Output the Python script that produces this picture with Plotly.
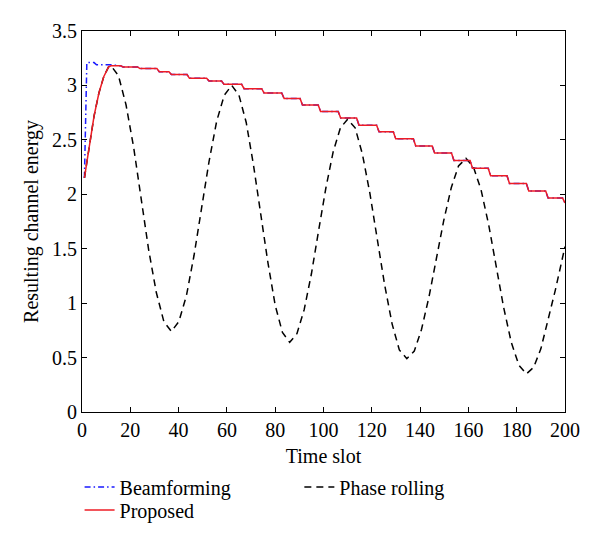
import plotly.graph_objects as go

# Phase rolling (black dashed)
phase_x = [1, 3, 5, 7, 9, 11, 12, 15.1, 18.25, 21.4, 24.5, 27.6, 30.75, 33.9, 37,
           40.1, 43.25, 46.4, 49.5, 52.6, 55.75, 58.9, 62,
           65, 68, 71, 74, 77, 80, 83, 86,
           89, 92, 95, 98, 101, 104, 107, 110,
           113.1, 116.1, 119.2, 122.25, 125.3, 128.4, 131.4, 134.5,
           137.6, 140.6, 143.7, 146.75, 149.8, 152.9, 155.9, 159,
           162.1, 165.25, 168.4, 171.5, 174.6, 177.75, 180.9, 184,
           187, 190, 193, 196, 200]
phase_y = [2.15, 2.45, 2.72, 2.93, 3.08, 3.17, 3.18, 3.09, 2.82, 2.43, 1.96, 1.49, 1.10, 0.83, 0.74,
           0.83, 1.07, 1.44, 1.87, 2.30, 2.67, 2.91, 3.00,
           2.91, 2.66, 2.27, 1.82, 1.37, 0.98, 0.73, 0.64,
           0.72, 0.94, 1.27, 1.67, 2.06, 2.39, 2.61, 2.69,
           2.61, 2.37, 2.01, 1.59, 1.17, 0.81, 0.57, 0.49,
           0.56, 0.76, 1.06, 1.41, 1.76, 2.06, 2.26, 2.33,
           2.25, 2.04, 1.72, 1.34, 0.96, 0.64, 0.43, 0.35,
           0.41, 0.58, 0.84, 1.12, 1.52]

# Proposed (red staircase)
proposed_x = [1, 3, 5, 7, 9, 11, 12, 16, 17, 23, 24, 31, 32, 36, 37, 43.5, 44.5,
              51.6, 52.6, 57.8, 58.8, 66.1, 67.1, 74.4, 75.4, 82.7, 83.7, 90.3, 91.3,
              97.8, 98.8, 106.1, 107.1, 113.7, 114.7, 122, 123, 128.9, 129.9,
              137.2, 138.2, 145, 146, 153, 154, 160.7, 161.7, 168.2, 169.2,
              176, 177, 184, 185, 192, 193, 199, 200]
proposed_y = [2.15, 2.45, 2.72, 2.93, 3.08, 3.17, 3.18, 3.18, 3.17, 3.17, 3.155, 3.155, 3.125, 3.125, 3.10, 3.10, 3.065,
              3.065, 3.04, 3.04, 3.01, 3.01, 2.97, 2.97, 2.93, 2.93, 2.88, 2.88, 2.82,
              2.82, 2.76, 2.76, 2.70, 2.70, 2.635, 2.635, 2.575, 2.575, 2.51,
              2.51, 2.443, 2.443, 2.38, 2.38, 2.31, 2.31, 2.24, 2.24, 2.17,
              2.17, 2.10, 2.10, 2.03, 2.03, 1.965, 1.965, 1.92]

# Beamforming (blue dash-dot): its own start, then identical to proposed
beam_head_x = [1, 2, 5, 6, 12]
beam_head_y = [2.15, 3.21, 3.21, 3.19, 3.19]
beam_x = beam_head_x + [x for x in proposed_x if x > 12]
beam_y = beam_head_y + [y for x, y in zip(proposed_x, proposed_y) if x > 12]

x_ticks = [0, 20, 40, 60, 80, 100, 120, 140, 160, 180, 200]
y_ticks = [0, 0.5, 1, 1.5, 2, 2.5, 3, 3.5]
y_tick_text = ["0", "0.5", "1", "1.5", "2", "2.5", "3", "3.5"]

FONT = "Liberation Serif"
FS = 20

fig = go.Figure()
fig.add_trace(go.Scatter(x=beam_x, y=beam_y, mode="lines", name="Beamforming",
                         line=dict(color="#1a1aff", width=1.5, dash="6px,3px,1.5px,3px"),
                         legend="legend"))
fig.add_trace(go.Scatter(x=phase_x, y=phase_y, mode="lines", name="Phase rolling",
                         line=dict(color="black", width=1.5, dash="7px,5px"),
                         legend="legend2"))
fig.add_trace(go.Scatter(x=proposed_x, y=proposed_y, mode="lines", name="Proposed",
                         line=dict(color="#ee1c25", width=1.5),
                         legend="legend3"))

axis_common = dict(showline=True, linecolor="black", linewidth=1, mirror="ticks",
                   ticks="inside", ticklen=5, tickcolor="black", showgrid=False,
                   zeroline=False, automargin=False,
                   tickfont=dict(family=FONT, size=FS, color="black"))

fig.update_xaxes(range=[0, 200], tickvals=x_ticks,
                 title=dict(text="Time slot", font=dict(family=FONT, size=FS, color="black"), standoff=8),
                 **axis_common)
fig.update_yaxes(range=[0, 3.5], tickvals=y_ticks, ticktext=y_tick_text,
                 title=dict(text="Resulting channel energy", font=dict(family=FONT, size=FS, color="black"), standoff=8),
                 **axis_common)

leg = dict(xanchor="left", yanchor="middle", orientation="v",
           font=dict(family=FONT, size=FS), bgcolor="rgba(0,0,0,0)", itemwidth=30)

fig.update_layout(
    width=600, height=558,
    margin=dict(l=74, r=43, t=23, b=154),
    paper_bgcolor="white", plot_bgcolor="white",
    font=dict(family=FONT, size=FS, color="black"),
    legend=dict(x=-0.005, y=-0.197, **leg),
    legend2=dict(x=0.45, y=-0.197, **leg),
    legend3=dict(x=-0.005, y=-0.257, **leg),
    showlegend=True,
)

fig.write_html("out.html")
